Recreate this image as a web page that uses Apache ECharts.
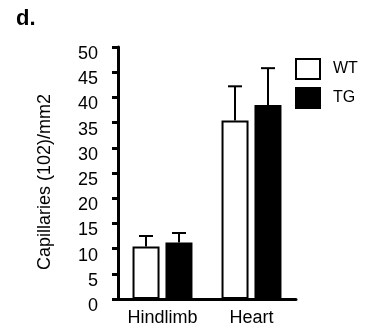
<!DOCTYPE html>
<html><head><meta charset="utf-8">
<script src="https://cdn.jsdelivr.net/npm/echarts@6/dist/echarts.min.js"></script>
<style>html,body{margin:0;padding:0;background:#fff}#c{width:366px;height:328px}</style>
</head><body><div id="c"></div>
<script>
var categories = ['Hindlimb', 'Heart'];
var wtMean = [10.4, 35.4];
var wtErr = [12.5, 42.2];
var tgMean = [11.2, 38.5];
var tgErr = [13.1, 45.8];
var yTicks = [0, 5, 10, 15, 20, 25, 30, 35, 40, 45, 50];

var chart = echarts.init(document.getElementById('c'));
var FONT = 'Liberation Sans, Arial, sans-serif';

function errSeries(name, tops, errs, idx) {
  return {
    type: 'custom', name: name + ' err', silent: true, z: 1,
    data: tops.map(function (v, i) { return [i, v, errs[i]]; }),
    renderItem: function (params, api) {
      var i = api.value(0);
      var base = api.coord([i, api.value(1)]);
      var top = api.coord([i, api.value(2)]);
      var bw = 27, gap = 6;
      var cx = base[0] + (idx === 0 ? -(gap / 2 + bw / 2) : (gap / 2 + bw / 2));
      var hw = 7;
      return {
        type: 'group',
        children: [
          { type: 'line', shape: { x1: cx, y1: base[1], x2: cx, y2: top[1] }, style: { stroke: '#000', lineWidth: 2 } },
          { type: 'line', shape: { x1: cx - hw, y1: top[1], x2: cx + hw, y2: top[1] }, style: { stroke: '#000', lineWidth: 2 } }
        ]
      };
    }
  };
}

chart.setOption({
  animation: false,
  title: { text: 'd.', left: 16, top: 8, padding: 0, textStyle: { fontFamily: FONT, fontSize: 22, fontWeight: 'bold', color: '#000' } },
  legend: {
    orient: 'vertical', left: 295, top: 58, padding: 0, itemWidth: 24, itemHeight: 20, itemGap: 7,
    icon: 'rect',
    data: ['WT', 'TG'],
    textStyle: { fontFamily: FONT, fontSize: 16, color: '#000', padding: [0, 0, 0, 8] }
  },
  grid: { left: 118, right: 70, top: 47, bottom: 29, containLabel: false },
  xAxis: {
    type: 'category', data: categories,
    axisLine: { lineStyle: { color: '#000', width: 3 } },
    axisTick: { show: false },
    axisLabel: { interval: 0, fontFamily: FONT, fontSize: 18, color: '#000', margin: 10 }
  },
  yAxis: {
    type: 'value', min: yTicks[0], max: yTicks[yTicks.length - 1], interval: 5,
    name: 'Capillaries (102)/mm2', nameLocation: 'middle', nameGap: 64, nameRotate: 90,
    nameTextStyle: { fontFamily: FONT, fontSize: 18, color: '#000', padding: [0, 18, 0, 0] },
    axisLine: { show: true, lineStyle: { color: '#000', width: 3 } },
    axisTick: { show: true, length: 6, lineStyle: { color: '#000', width: 3 } },
    splitLine: { show: false },
    axisLabel: { fontFamily: FONT, fontSize: 18, color: '#000', margin: 20, verticalAlign: 'top', lineHeight: 14 }
  },
  series: [
    { type: 'bar', name: 'WT', data: wtMean, barWidth: 27, barGap: '22%', z: 2,
      itemStyle: { color: '#fff', borderColor: '#000', borderWidth: 2 } },
    { type: 'bar', name: 'TG', data: tgMean, barWidth: 27, barGap: '22%', z: 2,
      itemStyle: { color: '#000', borderColor: '#000', borderWidth: 2 } },
    errSeries('WT', wtMean, wtErr, 0),
    errSeries('TG', tgMean, tgErr, 1)
  ]
});
</script></body></html>
